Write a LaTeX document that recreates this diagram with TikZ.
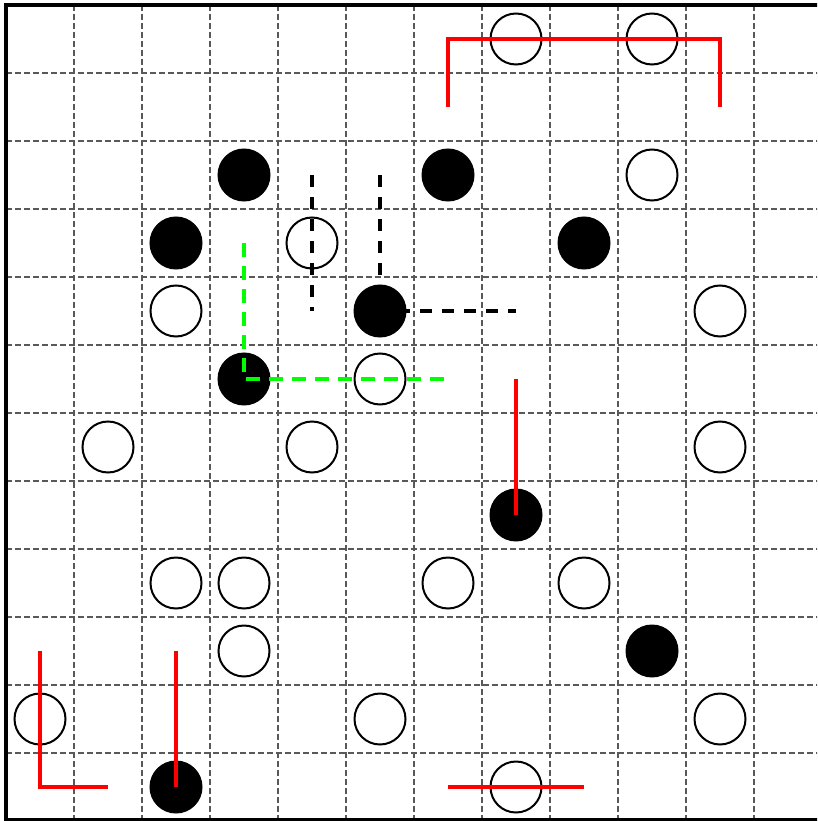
\documentclass[tikz,border=0pt]{standalone}
\begin{document}
\begin{tikzpicture}[x=1pt,y=-1pt,
  gridline/.style={draw=black!65,line width=1.3pt,dash pattern=on 6pt off 3pt},
  frame/.style={draw=black,line width=3.5pt},
  wstone/.style={circle,draw=black,fill=white,line width=2pt,minimum size=51pt,inner sep=0pt},
  bstone/.style={circle,draw=black,fill=black,line width=2pt,minimum size=51pt,inner sep=0pt},
  redline/.style={draw=red,line width=4.5pt},
  blackdash/.style={draw=black,line width=4.5pt,dash pattern=on 12pt off 10pt},
  greendash/.style={draw=green,line width=4.5pt,dash pattern=on 14pt off 9pt}]
\useasboundingbox (0,0) rectangle (817,821);
\clip (0,0) rectangle (817,821);
\fill[white] (0,0) rectangle (817,821);
% grid
\foreach \x in {74,142,...,822} \draw[gridline] (\x,5) -- (\x,821);
\foreach \y in {73,141,...,753} \draw[gridline] (6,\y) -- (830,\y);
\draw[frame] (830,5) -- (6,5) -- (6,820) -- (830,820);
% stones
\node[wstone] (w1) at (516,39) {};
\node[wstone] (w2) at (652,39) {};
\node[bstone] (b1) at (244,175) {};
\node[bstone] (b2) at (448,175) {};
\node[wstone] (w3) at (652,175) {};
\node[bstone] (b3) at (176,243) {};
\node[wstone] (w4) at (312,243) {};
\node[bstone] (b4) at (584,243) {};
\node[wstone] (w5) at (176,311) {};
\node[bstone] (b5) at (380,311) {};
\node[wstone] (w6) at (720,311) {};
\node[bstone] (b6) at (244,379) {};
\node[wstone] (w7) at (380,379) {};
\node[wstone] (w8) at (108,447) {};
\node[wstone] (w9) at (312,447) {};
\node[wstone] (w10) at (720,447) {};
\node[bstone] (b7) at (516,515) {};
\node[wstone] (w11) at (176,583) {};
\node[wstone] (w12) at (244,583) {};
\node[wstone] (w13) at (448,583) {};
\node[wstone] (w14) at (584,583) {};
\node[wstone] (w15) at (244,651) {};
\node[bstone] (b8) at (652,651) {};
\node[wstone] (w16) at (40,719) {};
\node[wstone] (w17) at (380,719) {};
\node[wstone] (w18) at (720,719) {};
\node[bstone] (b9) at (176,787) {};
\node[wstone] (w19) at (516,787) {};
% line end points
\coordinate (r1a) at (448,107);
\coordinate (r1b) at (448,39);
\coordinate (r1c) at (720,39);
\coordinate (r1d) at (720,107);
\coordinate (k1a) at (312,175);
\coordinate (k1b) at (312,311);
\coordinate (k2a) at (380,175);
\coordinate (k2c) at (516,311);
\coordinate (g1a) at (244,243);
\coordinate (g1c) at (448,379);
\coordinate (r2a) at (516,379);
\coordinate (r3a) at (40,651);
\coordinate (r3b) at (40,787);
\coordinate (r3c) at (108,787);
\coordinate (r4a) at (176,651);
\coordinate (r5a) at (448,787);
\coordinate (r5b) at (584,787);
% lines
\draw[redline] (r1a) -- (r1b) -- (r1c) -- (r1d);
\draw[blackdash] (k1a) -- (k1b);
\draw[blackdash] (k2a) -- (b5.center) -- (k2c);
\draw[greendash] (g1a) -- (b6.center) -- (g1c);
\draw[redline] (r2a) -- (b7.center);
\draw[redline] (r3a) -- (r3b) -- (r3c);
\draw[redline] (r4a) -- (b9.center);
\draw[redline] (r5a) -- (r5b);
\end{tikzpicture}
\end{document}
